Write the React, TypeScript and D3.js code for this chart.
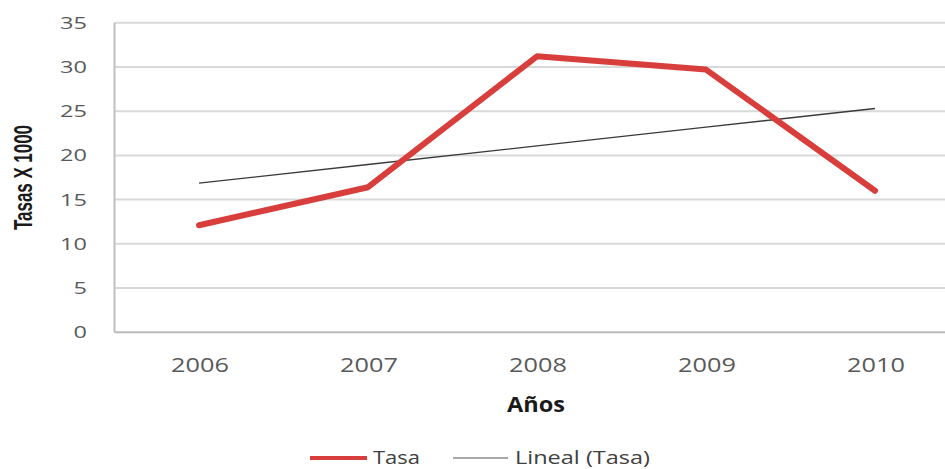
import React from "react";
import * as d3 from "d3";

const years = ["2006", "2007", "2008", "2009", "2010"];
const tasa = [12.1, 16.4, 31.2, 29.7, 16.0];
const yTicks = [0, 5, 10, 15, 20, 25, 30, 35];
const seriesName = "Tasa";
const trendName = "Lineal (Tasa)";
const xTitle = "Años";
const yTitle = "Tasas X 1000";

const W = 945;
const H = 469;
const M = { left: 114.5, top: 22.7, bottom: 332.3 };
const step = 169;

export default function App() {
  const x = d3
    .scaleBand<string>()
    .domain(years)
    .range([M.left, M.left + step * years.length])
    .paddingInner(0)
    .paddingOuter(0);
  const cx = (d: string) => (x(d) as number) + x.bandwidth() / 2;
  const y = d3.scaleLinear().domain([0, 35]).range([M.bottom, M.top]);

  // linear regression (Excel "Lineal" trendline)
  const xs = tasa.map((_, i) => i + 1);
  const mx = d3.mean(xs) as number;
  const my = d3.mean(tasa) as number;
  const slope =
    (d3.sum(xs.map((xi, i) => (xi - mx) * (tasa[i] - my))) as number) /
    (d3.sum(xs.map((xi) => (xi - mx) ** 2)) as number);
  const intercept = my - slope * mx;
  const trend = years.map((yr, i) => ({ yr, v: intercept + slope * (i + 1) }));

  const line = d3
    .line<{ yr: string; v: number }>()
    .x((d) => cx(d.yr))
    .y((d) => y(d.v));

  const data = years.map((yr, i) => ({ yr, v: tasa[i] }));
  const right = W;

  return (
    <div style={{ position: "fixed", left: 0, top: 0 }}>
      <svg width={W} height={H} style={{ display: "block", background: "#fff" }}>
        {yTicks.map((t) => (
          <line
            key={"g" + t}
            x1={M.left}
            x2={right}
            y1={y(t)}
            y2={y(t)}
            stroke="#d9d9d9"
            strokeWidth={2}
          />
        ))}
        <line x1={M.left} x2={M.left} y1={M.top} y2={M.bottom} stroke="#bfbfbf" strokeWidth={2} />
        <line x1={M.left} x2={right} y1={M.bottom} y2={M.bottom} stroke="#bfbfbf" strokeWidth={2} />

        {yTicks.map((t) => (
          <g key={"yt" + t} transform={`translate(87,${y(t) + 6}) scale(1.4,1)`}>
            <text
              textAnchor="end"
              fontFamily="'Open Sans', sans-serif"
              fontSize={16.8}
              fill="#595959"
            >
              {t}
            </text>
          </g>
        ))}

        {years.map((yr) => (
          <g key={"xt" + yr} transform={`translate(${cx(yr) + 1},372) scale(1.29,1)`}>
            <text
              textAnchor="middle"
              fontFamily="'Open Sans', sans-serif"
              fontSize={19.6}
              fill="#595959"
            >
              {yr}
            </text>
          </g>
        ))}

        <text
          x={536}
          y={412}
          textAnchor="middle"
          fontFamily="'Open Sans', sans-serif"
          fontWeight="bold"
          fontSize={21}
          fill="#1a1a1a"
          textLength={58}
          lengthAdjust="spacingAndGlyphs"
        >
          {xTitle}
        </text>
        <text
          transform="translate(32,177.5) rotate(-90)"
          textAnchor="middle"
          fontFamily="'Liberation Sans Narrow', 'Liberation Sans', sans-serif"
          fontWeight="bold"
          fontSize={25}
          fill="#1a1a1a"
          textLength={105}
          lengthAdjust="spacingAndGlyphs"
        >
          {yTitle}
        </text>

        <path d={line(trend) || ""} fill="none" stroke="#3a3a3a" strokeWidth={1.3} />
        <path
          d={line(data) || ""}
          fill="none"
          stroke="#d83f3c"
          strokeWidth={6}
          strokeLinejoin="round"
          strokeLinecap="round"
        />

        <line x1={310} x2={367} y1={458} y2={458} stroke="#d83f3c" strokeWidth={4} />
        <text
          x={373}
          y={464}
          fontFamily="'Open Sans', sans-serif"
          fontSize={18}
          fill="#404040"
          textLength={47}
          lengthAdjust="spacingAndGlyphs"
        >
          {seriesName}
        </text>
        <line x1={453} x2={508} y1={458} y2={458} stroke="#8c8c8c" strokeWidth={1.5} />
        <text
          x={515}
          y={464}
          fontFamily="'Open Sans', sans-serif"
          fontSize={18}
          fill="#404040"
          textLength={135}
          lengthAdjust="spacingAndGlyphs"
        >
          {trendName}
        </text>
      </svg>
    </div>
  );
}
